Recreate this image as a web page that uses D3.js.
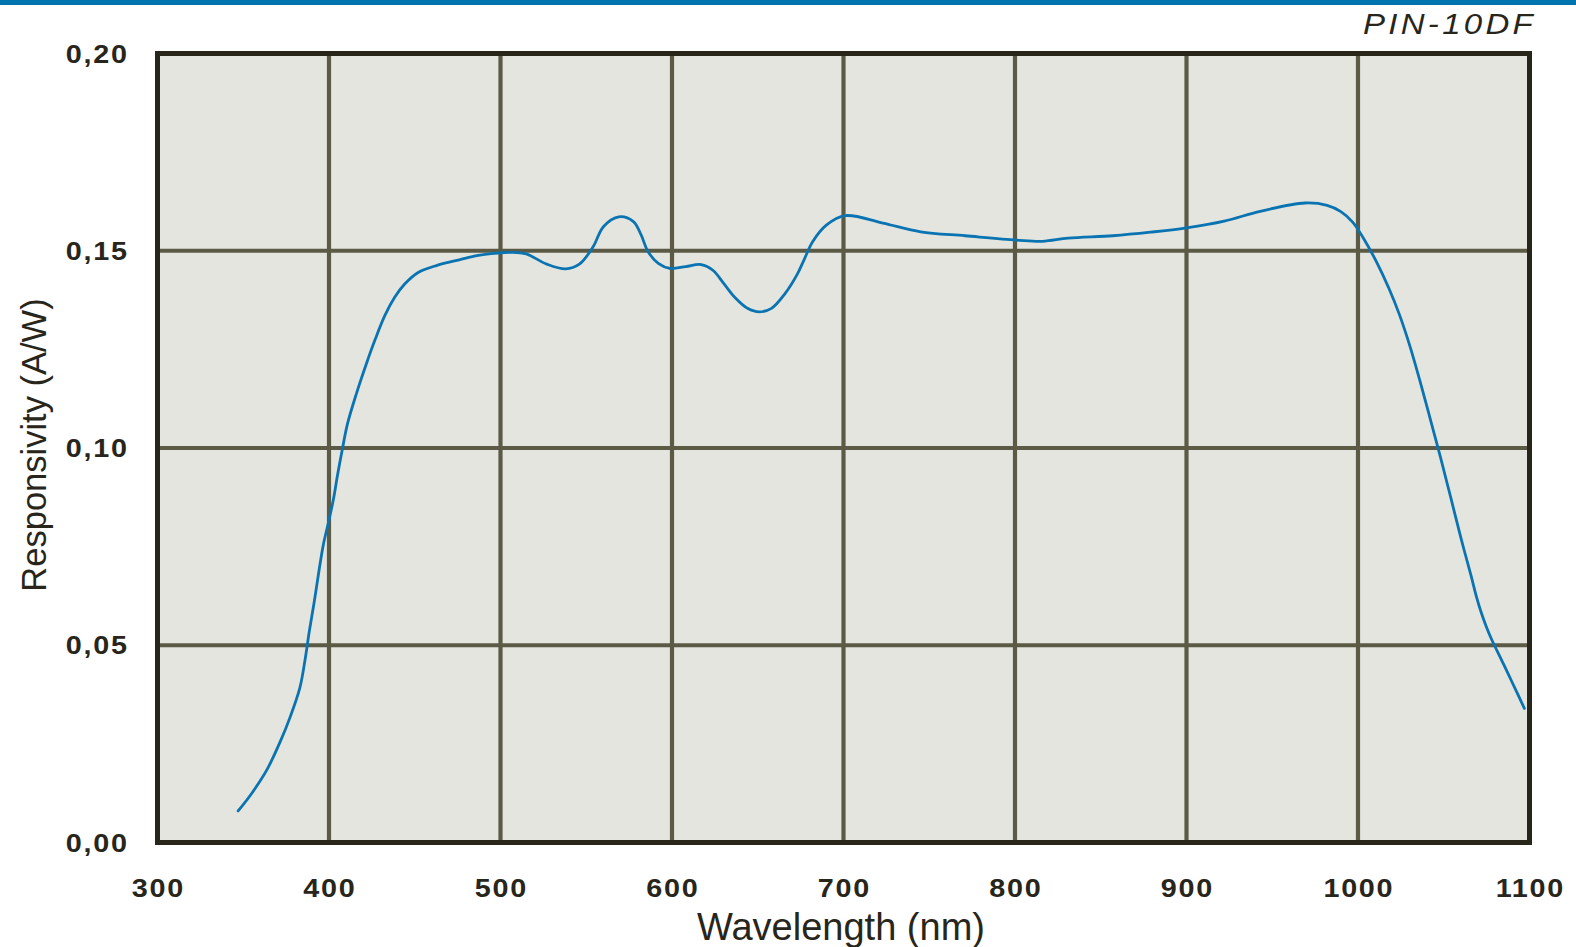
<!DOCTYPE html>
<html>
<head>
<meta charset="utf-8">
<script src="https://cdn.jsdelivr.net/npm/d3@7"></script>
<style>
  html, body { margin: 0; padding: 0; background: #ffffff; }
  svg { display: block; }
  text { font-family: "Liberation Sans", Arial, sans-serif; fill: #28251a; }
</style>
</head>
<body>
<svg id="chart" width="1576" height="947"></svg>
<script>
// Spectral responsivity of the PIN-10DF photodiode
const wavelengths = [347, 355, 364, 372, 377, 383, 386, 388.5, 391.4, 394.2, 396.7, 399.6, 402.5, 405, 408, 410.7,
  416, 421.6, 427, 432.6, 438.3, 444, 452, 463, 476, 487, 507, 515, 527, 538, 546, 554, 560, 569, 577.5, 582,
  586, 592, 599, 608, 617, 624, 630, 637, 644, 651, 658, 666, 673, 677, 682, 690, 701, 723, 745, 771, 801, 816, 831,
  857, 879, 900, 922, 943, 969, 982, 990, 997, 1003, 1011, 1018, 1024, 1030, 1036, 1042, 1048, 1054,
  1060, 1066, 1069, 1072, 1075, 1078, 1084, 1090, 1097];
const responsivity = [0.008, 0.0125, 0.0186, 0.026, 0.0314, 0.0392, 0.0462, 0.0535, 0.0610, 0.0690, 0.0755, 0.0810,
  0.0868, 0.0932, 0.1002, 0.1060, 0.1138, 0.1211, 0.1276, 0.1336, 0.1382, 0.1415, 0.1445, 0.1463, 0.1477, 0.1488,
  0.1496, 0.1492, 0.1466, 0.1454, 0.1466, 0.151, 0.1561, 0.1586, 0.1574, 0.154, 0.1498, 0.1468, 0.1455, 0.1460,
  0.1465, 0.1450, 0.1418, 0.1380, 0.1354, 0.1345, 0.1354, 0.1392, 0.1440, 0.1477, 0.1523, 0.1565, 0.1589, 0.1570,
  0.1548, 0.1538, 0.1527, 0.1524, 0.1532, 0.1538, 0.1547, 0.1558, 0.1575, 0.1600, 0.1621, 0.1615, 0.1599, 0.1572,
  0.1533, 0.1470, 0.1405, 0.1340, 0.1262, 0.1172, 0.1076, 0.0978, 0.0876, 0.0772, 0.0675, 0.0624, 0.0581, 0.0545,
  0.0514, 0.0460, 0.0405, 0.0340];

const xTicks = [300, 400, 500, 600, 700, 800, 900, 1000, 1100];
const yTicks = [0, 0.05, 0.10, 0.15, 0.20];
const yTickLabels = ["0,00", "0,05", "0,10", "0,15", "0,20"];

const svg = d3.select("#chart");

const x = d3.scaleLinear().domain([300, 1100]).range([157.5, 1529.5]);
const y = d3.scaleLinear().domain([0, 0.20]).range([842.5, 53.5]);

// header rule
svg.append("rect").attr("x", 0).attr("y", 0).attr("width", 1576).attr("height", 5).attr("fill", "#0074ae");

// model name
svg.append("g")
  .attr("transform", "translate(1536,34) scale(1.1,1)")
  .append("text")
  .attr("text-anchor", "end")
  .attr("font-style", "italic")
  .attr("font-size", 30)
  .attr("letter-spacing", 3)
  .attr("fill", "#3a3a36")
  .text("PIN-10DF");

// plot background
svg.append("rect")
  .attr("x", x(300)).attr("y", y(0.20))
  .attr("width", x(1100) - x(300)).attr("height", y(0) - y(0.20))
  .attr("fill", "#e5e5e0");

// grid
const grid = svg.append("g").attr("stroke", "#5b5a45").attr("stroke-width", 4.2);
grid.selectAll("line.v").data(xTicks.slice(1, -1)).join("line")
  .attr("class", "v")
  .attr("x1", d => x(d)).attr("x2", d => x(d))
  .attr("y1", y(0.20)).attr("y2", y(0));
grid.selectAll("line.h").data(yTicks.slice(1, -1)).join("line")
  .attr("class", "h")
  .attr("x1", x(300)).attr("x2", x(1100))
  .attr("y1", d => y(d)).attr("y2", d => y(d));

// curve
const pts = wavelengths.map((w, i) => [w, responsivity[i]]);
const line = d3.line()
  .x(d => x(d[0]))
  .y(d => y(d[1]))
  .curve(d3.curveCatmullRom.alpha(0.5));
svg.append("path")
  .datum(pts)
  .attr("d", line)
  .attr("fill", "none")
  .attr("stroke", "#0a74b2")
  .attr("stroke-width", 2.8)
  .attr("stroke-linejoin", "round")
  .attr("stroke-linecap", "round");

// frame
svg.append("rect")
  .attr("x", x(300)).attr("y", y(0.20))
  .attr("width", x(1100) - x(300)).attr("height", y(0) - y(0.20))
  .attr("fill", "none")
  .attr("stroke", "#28251a")
  .attr("stroke-width", 5);

// tick labels: wide lettering
const sx = 1.15, ls = 1.5;

svg.append("g").selectAll("g").data(xTicks).join("g")
  .attr("transform", d => `translate(${x(d) + ls * sx / 2},897) scale(${sx},1)`)
  .append("text")
  .attr("text-anchor", "middle")
  .attr("font-size", 25)
  .attr("font-weight", "bold")
  .attr("letter-spacing", ls)
  .text(d => d);

svg.append("g").selectAll("g").data(yTicks).join("g")
  .attr("transform", d => `translate(${127 + ls * sx},${y(d) + 9}) scale(${sx},1)`)
  .append("text")
  .attr("text-anchor", "end")
  .attr("font-size", 25)
  .attr("font-weight", "bold")
  .attr("letter-spacing", ls)
  .text((d, i) => yTickLabels[i]);

// axis titles
svg.append("text")
  .attr("x", 841).attr("y", 940)
  .attr("text-anchor", "middle")
  .attr("font-size", 38)
  .text("Wavelength (nm)");

svg.append("text")
  .attr("transform", "translate(46,445) rotate(-90)")
  .attr("text-anchor", "middle")
  .attr("font-size", 34.5)
  .text("Responsivity (A/W)");
</script>
</body>
</html>
